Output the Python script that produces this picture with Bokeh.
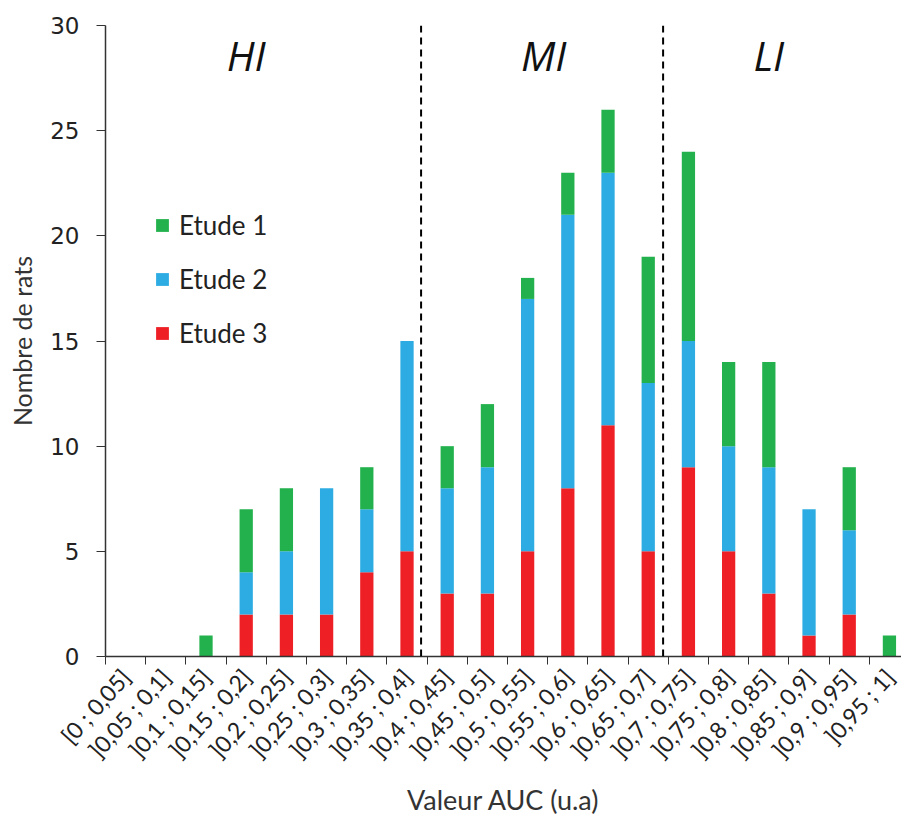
from bokeh.plotting import figure
from bokeh.models import (ColumnDataSource, FixedTicker, Span, Legend, LegendItem, Range1d, Label)
from bokeh.embed import file_html
from bokeh.resources import INLINE

categories = ["[0 ; 0,05]", "]0,05 ; 0,1]", "]0,1 ; 0,15]", "]0,15 ; 0,2]", "]0,2 ; 0,25]",
              "]0,25 ; 0,3]", "]0,3 ; 0,35]", "]0,35 ; 0,4]", "]0,4 ; 0,45]", "]0,45 ; 0,5]",
              "]0,5 ; 0,55]", "]0,55 ; 0,6]", "]0,6 ; 0,65]", "]0,65 ; 0,7]", "]0,7 ; 0,75]",
              "]0,75 ; 0,8]", "]0,8 ; 0,85]", "]0,85 ; 0,9]", "]0,9 ; 0,95]", "]0,95 ; 1]"]
etude1 = [0, 0, 1, 3, 3, 0, 2, 0, 2, 3, 1, 2, 3, 6, 9, 4, 5, 0, 3, 1]
etude2 = [0, 0, 0, 2, 3, 6, 3, 10, 5, 6, 12, 13, 12, 8, 6, 5, 6, 6, 4, 0]
etude3 = [0, 0, 0, 2, 2, 2, 4, 5, 3, 3, 5, 8, 11, 5, 9, 5, 3, 1, 2, 0]
zone_labels = ["HI", "MI", "LI"]
zone_x = [3.5, 10.9, 16.5]
zone_bounds = [7.85, 13.87]

colors = {"Etude 1": "#22B14C", "Etude 2": "#2CACE2", "Etude 3": "#EE1F25"}
FONT = "Lato"

xs = [i + 0.5 for i in range(len(categories))]
src = ColumnDataSource(dict(x=xs, e1=etude1, e2=etude2, e3=etude3))

p = figure(width=901, height=819, output_backend="svg", toolbar_location=None,
           x_range=Range1d(0, 19.8), y_range=Range1d(0, 30))
p.min_border_left = 105
p.min_border_top = 25
p.min_border_right = 0
p.min_border_bottom = 161
p.outline_line_color = None
p.grid.visible = False

r = p.vbar_stack(["e3", "e2", "e1"], x="x", width=0.33, source=src,
                 color=[colors["Etude 3"], colors["Etude 2"], colors["Etude 1"]], line_color=None)

for b in zone_bounds:
    p.add_layout(Span(location=b, dimension="height", line_color="black",
                      line_width=2, line_dash="7 5"))

for t, xx in zip(zone_labels, zone_x):
    p.add_layout(Label(x=xx, y=28.6, text=t, text_font="Open Sans", text_font_style="italic",
                       text_font_size="41px", text_align="center", text_baseline="middle",
                       text_color="#111111"))

legend = Legend(items=[LegendItem(label="Etude 1", renderers=[r[2]]),
                       LegendItem(label="Etude 2", renderers=[r[1]]),
                       LegendItem(label="Etude 3", renderers=[r[0]])],
                location=(49, 307), spacing=22, glyph_width=16, glyph_height=16,
                label_text_font=FONT, label_text_font_size="26px", label_text_color="#222222",
                border_line_color=None, background_fill_alpha=0, padding=0, label_standoff=9)
p.add_layout(legend)

ticker = FixedTicker(ticks=xs, minor_ticks=list(range(0, 21)))
p.xaxis.ticker = ticker
p.xaxis.major_label_overrides = {x: c for x, c in zip(xs, categories)}
p.xaxis.major_tick_line_color = None
p.xaxis.minor_tick_in = 0
p.xaxis.minor_tick_out = 8
p.xaxis.minor_tick_line_color = "#333333"
p.xaxis.major_label_orientation = 0.84
p.xaxis.major_label_text_font = FONT
p.xaxis.major_label_text_font_size = "23px"
p.xaxis.major_label_text_color = "#222222"
p.xaxis.major_label_standoff = 8
p.xaxis.axis_label = "Valeur AUC (u.a)"
p.xaxis.axis_label_text_font = FONT
p.xaxis.axis_label_text_font_style = "normal"
p.xaxis.axis_label_text_font_size = "27px"
p.xaxis.axis_label_text_color = "#333333"
p.xaxis.axis_label_standoff = 8
p.xaxis.axis_line_color = "#333333"
p.xaxis.axis_line_width = 1.5

p.yaxis.ticker = FixedTicker(ticks=[0, 5, 10, 15, 20, 25, 30])
p.yaxis.minor_tick_line_color = None
p.yaxis.major_tick_in = 0
p.yaxis.major_tick_out = 9
p.yaxis.major_tick_line_color = "#333333"
p.yaxis.major_label_text_font = "DejaVu Sans"
p.yaxis.major_label_text_font_size = "23px"
p.yaxis.major_label_text_color = "#222222"
p.yaxis.major_label_standoff = 17
p.yaxis.axis_label = "Nombre de rats"
p.yaxis.axis_label_text_font = FONT
p.yaxis.axis_label_text_font_style = "normal"
p.yaxis.axis_label_text_font_size = "25px"
p.yaxis.axis_label_text_color = "#333333"
p.yaxis.axis_label_standoff = 10
p.yaxis.axis_line_color = "#333333"
p.yaxis.axis_line_width = 1.5

open("out.html", "w").write(file_html(p, INLINE))
